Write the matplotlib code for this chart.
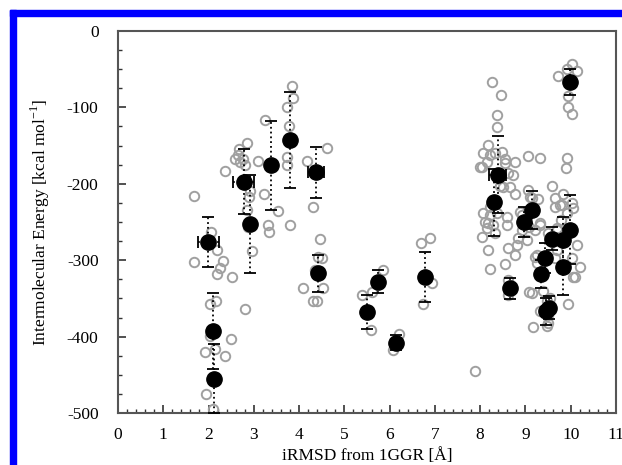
import matplotlib
matplotlib.use('Agg')
import matplotlib.pyplot as plt
from matplotlib.patches import Rectangle
from matplotlib.ticker import MultipleLocator

# individual structures (open gray circles)
gray_x = [1.68, 1.68, 2.05, 2.18, 2.32, 2.25, 2.18, 2.52, 2.16, 2.03, 2.03, 2.49, 1.92, 2.14, 2.36, 1.94, 2.10, 2.36,
          2.85, 2.67, 2.58, 2.65, 2.76, 2.69, 2.80, 3.09, 3.24, 3.22, 3.53, 3.31, 3.33, 2.91, 2.89, 2.85, 2.87, 2.96, 2.80,
          3.80, 3.84, 3.86, 3.73, 3.73, 3.73, 3.78, 4.17, 4.61, 4.30, 4.46, 4.42, 4.50, 4.35, 4.52, 4.08, 4.30, 4.39,
          5.39, 5.61, 5.85, 5.58, 6.20, 6.07, 6.69, 6.89, 6.93, 6.73, 7.88,
          8.26, 8.45, 8.37, 8.37, 8.17, 8.06, 8.21, 8.32, 8.48, 8.04, 8.15, 8.54, 8.76, 8.61, 8.72, 8.50, 8.65, 8.76,
          9.05, 9.32, 9.91, 9.89, 9.58, 9.65, 9.84, 9.76, 10.02, 10.04, 9.91, 9.78, 9.05, 9.09, 9.27,
          8.06, 8.21, 8.10, 8.15, 8.04, 8.28, 8.59, 8.59, 8.32, 8.87, 8.92, 9.07, 9.32, 9.49, 9.69,
          10.02, 10.13, 9.91, 9.71, 9.93, 10.02, 9.95,
          8.43, 8.21, 8.37, 8.17, 8.17, 8.21, 8.54, 8.61, 8.76, 8.81, 8.83, 8.92, 9.14, 8.92, 9.20, 9.03, 9.25, 9.07,
          9.16, 8.61, 8.61, 9.25, 9.32, 9.47, 9.49, 9.47, 9.54, 9.38, 9.65, 9.69, 9.93, 10.09, 10.20, 10.13, 10.02,
          9.65, 9.80, 10.04, 9.20, 9.14, 9.69, 9.32, 9.49, 8.54, 7.99]
gray_y = [-216, -303, -263, -287, -301, -310, -318, -322, -353, -357, -399, -403, -420, -416, -425, -475, -495, -183,
          -147, -154, -168, -162, -168, -171, -176, -170, -117, -214, -235, -254, -263, -210, -217, -234, -256, -288, -364,
          -254, -72, -88, -99, -165, -175, -125, -170, -153, -230, -272, -296, -297, -313, -336, -336, -354, -354,
          -345, -342, -313, -392, -396, -418, -278, -271, -330, -357, -445,
          -67, -84, -110, -126, -149, -160, -162, -160, -159, -178, -171, -173, -171, -186, -188, -204, -204, -213,
          -164, -166, -166, -179, -203, -218, -213, -228, -225, -232, -238, -247, -208, -217, -220,
          -238, -230, -250, -258, -270, -254, -243, -254, -265, -237, -250, -257, -254, -265, -261,
          -43, -53, -50, -59, -99, -109, -85,
          -203, -241, -238, -251, -286, -311, -305, -284, -293, -280, -271, -261, -218, -241, -261, -274, -293, -342,
          -388, -346, -326, -304, -366, -386, -382, -353, -349, -340, -297, -287, -357, -322, -309, -280, -297,
          -230, -228, -322, -296, -343, -258, -251, -372, -168, -178]

# cluster averages (filled black circles) with standard deviations
mean_x = [1.99, 2.10, 2.12, 2.78, 2.91, 3.38, 3.80, 4.37, 4.42, 5.49, 5.74, 6.14, 6.78,
          8.30, 8.39, 8.65, 8.96, 9.14, 9.34, 9.43, 9.45, 9.52, 9.58, 9.82, 9.84, 9.98, 9.98]
mean_y = [-276, -393, -455, -197, -253, -176, -143, -185, -317, -368, -328, -408, -322,
          -224, -188, -337, -250, -234, -318, -297, -367, -362, -272, -309, -274, -260, -67]
mean_yerr = [33, 50, 45, 42, 64, 58, 63, 33, 24, 22, 15, 10, 33,
             44, 50, 14, 20, 25, 18, 20, 18, 15, 15, 37, 30, 45, 17]
mean_xerr = [0.23, 0, 0, 0.23, 0, 0, 0, 0.17, 0, 0, 0, 0, 0,
             0, 0.19, 0, 0, 0, 0, 0, 0, 0, 0, 0, 0, 0, 0]

plt.rcParams['font.family'] = ['Liberation Serif', 'DejaVu Serif']
plt.rcParams['axes.unicode_minus'] = False

W, H = 622, 465
fig = plt.figure(figsize=(W / 100, H / 100), dpi=100)
ax = fig.add_axes([118 / W, 1 - 413 / H, (616 - 118) / W, (413 - 31) / H])

ax.plot(gray_x, gray_y, 'o', markersize=6.8, markerfacecolor='none',
        markeredgecolor='#a0a0a0', markeredgewidth=1.4, linestyle='none', zorder=2)

eb = ax.errorbar(mean_x, mean_y, yerr=mean_yerr, fmt='none', ecolor='black',
                 elinewidth=1.3, capsize=4.3, capthick=1.3, zorder=3)
for lc in eb[2]:
    lc.set_linestyle(':')

hx = [x for x, e in zip(mean_x, mean_xerr) if e > 0]
hy = [y for y, e in zip(mean_y, mean_xerr) if e > 0]
he = [e for e in mean_xerr if e > 0]
eb2 = ax.errorbar(hx, hy, xerr=he, fmt='none', ecolor='black',
                  elinewidth=1.3, capsize=4.3, capthick=1.3, zorder=3)
for lc in eb2[2]:
    lc.set_linestyle(':')

ax.plot(mean_x, mean_y, 'o', markersize=11, color='black', linestyle='none', zorder=4)

ax.set_xlim(0, 11)
ax.set_ylim(-500, 0)
ax.xaxis.set_major_locator(MultipleLocator(1))
ax.xaxis.set_minor_locator(MultipleLocator(0.2))
ax.yaxis.set_major_locator(MultipleLocator(100))
ax.yaxis.set_minor_locator(MultipleLocator(25))
ax.tick_params(which='both', direction='in', top=False, right=False, colors='#333333',
               labelcolor='black', labelsize=12.5)
ax.tick_params(which='major', length=6, width=1.2)
ax.tick_params(which='minor', length=3, width=1.0)
ax.tick_params(axis='y', pad=14)
ax.tick_params(axis='x', pad=10)
for s in ax.spines.values():
    s.set_color('#555555')
    s.set_linewidth(1.5)

ax.set_xlabel('iRMSD from 1GGR [Å]', fontsize=12.5)
ax.set_ylabel('Intermolecular Energy [kcal mol$^{\\mathregular{-1}}$]', fontsize=12.5)
ax.xaxis.set_label_coords(0.5, (413 - 456) / (413 - 31), transform=ax.transAxes)
ax.yaxis.set_label_coords((40 - 118) / (616 - 118), 0.5, transform=ax.transAxes)
ax.xaxis.label.set_va('center')
ax.yaxis.label.set_va('center')

fig.add_artist(Rectangle((10 / W, 0), 6 / W, (H - 10) / H, transform=fig.transFigure,
                         color='#0000ff', zorder=10))
fig.add_artist(Rectangle((10 / W, 1 - 16 / H), (W - 10) / W, 6 / H, transform=fig.transFigure,
                         color='#0000ff', zorder=10))

fig.savefig('out.png', dpi=100)
